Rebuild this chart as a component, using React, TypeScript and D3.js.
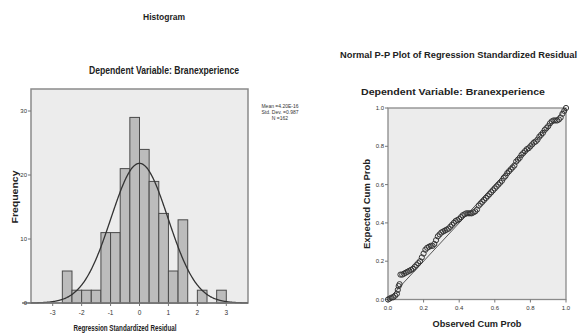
import React from "react";
import * as d3 from "d3";

// Histogram data
const binStart = -8 / 3;
const binWidth = 1 / 3;
const binCounts = [5, 2, 2, 2, 11, 11, 21, 29, 24, 19, 14, 5, 13, 0, 2, 0, 2];
const histXTicks = [-3, -2, -1, 0, 1, 2, 3];
const histYTicks = [0, 10, 20, 30];
const statMean = 4.2e-16;
const statSd = 0.987;
const statN = 162;
const legendLines = ["Mean =4.20E-16", "Std. Dev. =0.987", "N =162"];

// P-P plot data (observed cum prob, expected cum prob)
const ppObserved = [
  0.0, 0.01, 0.02, 0.03, 0.04, 0.05, 0.055, 0.06, 0.065, 0.07, 0.08, 0.09, 0.1, 0.11, 0.12, 0.13,
  0.14, 0.15, 0.16, 0.17, 0.18, 0.19, 0.2, 0.21, 0.22, 0.23, 0.24, 0.25, 0.26, 0.27, 0.28, 0.29,
  0.3, 0.31, 0.32, 0.33, 0.34, 0.35, 0.36, 0.37, 0.38, 0.39, 0.4, 0.41, 0.42, 0.43, 0.44, 0.45,
  0.46, 0.47, 0.48, 0.49, 0.5, 0.51, 0.52, 0.53, 0.54, 0.55, 0.56, 0.57, 0.58, 0.59, 0.6, 0.61,
  0.62, 0.63, 0.64, 0.65, 0.66, 0.67, 0.68, 0.69, 0.7, 0.71, 0.72, 0.73, 0.74, 0.75, 0.76, 0.77,
  0.78, 0.79, 0.8, 0.81, 0.82, 0.83, 0.84, 0.85, 0.86, 0.87, 0.88, 0.89, 0.9, 0.91, 0.92, 0.93,
  0.94, 0.95, 0.96, 0.97, 0.98, 0.99, 1.0,
];
const ppExpected = [
  0.0, 0.005, 0.01, 0.012, 0.02, 0.03, 0.05, 0.07, 0.08, 0.13, 0.13, 0.135, 0.14, 0.145, 0.15, 0.155,
  0.16, 0.17, 0.18, 0.19, 0.2, 0.22, 0.24, 0.26, 0.27, 0.275, 0.28, 0.28, 0.29, 0.31, 0.33, 0.34,
  0.35, 0.355, 0.36, 0.365, 0.37, 0.38, 0.39, 0.4, 0.41, 0.415, 0.42, 0.43, 0.44, 0.445, 0.45, 0.45,
  0.45, 0.45, 0.455, 0.46, 0.47, 0.49, 0.5, 0.51, 0.52, 0.53, 0.54, 0.55, 0.56, 0.57, 0.58, 0.59,
  0.6, 0.61, 0.62, 0.635, 0.645, 0.66, 0.67, 0.68, 0.69, 0.7, 0.72, 0.73, 0.74, 0.755, 0.765, 0.775,
  0.785, 0.79, 0.8, 0.81, 0.82, 0.825, 0.835, 0.85, 0.86, 0.87, 0.885, 0.895, 0.905, 0.92, 0.93, 0.935,
  0.935, 0.935, 0.94, 0.95, 0.97, 0.985, 1.0,
];
const ppTicks = [0, 0.2, 0.4, 0.6, 0.8, 1.0];

const FONT = "'Liberation Sans', Arial, sans-serif";

export default function App() {
  // Histogram scales
  const hx = d3.scaleLinear().domain([-3.75, 3.75]).range([31, 248]);
  const hy = d3.scaleLinear().domain([0, 33.44]).range([303, 89]);
  const bins = binCounts.map((c, i) => ({
    x0: binStart + i * binWidth,
    x1: binStart + (i + 1) * binWidth,
    c,
  }));
  const curvePts = d3.range(-3.75, 3.7501, 0.02).map((x) => [
    x,
    statN * binWidth * (Math.exp(-0.5 * ((x - statMean) / statSd) ** 2) / (statSd * Math.sqrt(2 * Math.PI))),
  ]);
  const curve = d3
    .line<number[]>()
    .x((d) => hx(d[0]))
    .y((d) => hy(d[1]))
    .curve(d3.curveBasis)(curvePts as any);

  // P-P scales
  const px = d3.scaleLinear().domain([0, 1]).range([388, 566]);
  const py = d3.scaleLinear().domain([0, 1]).range([299.5, 108]);

  const [hx0, hx1] = hx.range();
  const [hyB, hyT] = hy.range();

  return (
    <div style={{ position: "fixed", left: 0, top: 0, width: 586, height: 333, overflow: "hidden", background: "#fff" }}>
      <svg width={586} height={333} style={{ display: "block", fontFamily: FONT }}>
        <rect width={586} height={333} fill="#fff" />
        {/* Histogram */}
        <text x={164} y={20} textAnchor="middle" fontSize={9.5} fontWeight="bold" fill="#222" textLength={42} lengthAdjust="spacingAndGlyphs">Histogram</text>
        <text x={164} y={74} textAnchor="middle" fontSize={10} fontWeight="bold" fill="#222" textLength={150} lengthAdjust="spacingAndGlyphs">Dependent Variable: Branexperience</text>
        <rect x={hx0} y={hyT} width={hx1 - hx0} height={hyB - hyT} fill="#ececec" stroke="#8a8a8a" strokeWidth={1.5} />
        {bins.filter((b) => b.c > 0).map((b, i) => (
          <rect key={i} x={hx(b.x0)} y={hy(b.c)} width={hx(b.x1) - hx(b.x0)} height={hy(0) - hy(b.c)} fill="#bcbcbc" stroke="#4a4a4a" strokeWidth={1} />
        ))}
        <path d={curve || ""} fill="none" stroke="#333" strokeWidth={1.3} />
        <line x1={22} x2={hx1} y1={hyB} y2={hyB} stroke="#777" strokeWidth={1.3} />
        {histYTicks.map((t) => (
          <g key={t}>
            <line x1={hx0 - 3} x2={hx0} y1={hy(t)} y2={hy(t)} stroke="#777" />
            <text x={hx0 - 4} y={hy(t) + 2} textAnchor="end" fontSize={6} fill="#333">{t}</text>
          </g>
        ))}
        {histXTicks.map((t) => (
          <g key={t}>
            <line x1={hx(t)} x2={hx(t)} y1={hyB} y2={hyB + 3} stroke="#777" />
            <text x={hx(t)} y={hyB + 12} textAnchor="middle" fontSize={6.5} fill="#333">{t}</text>
          </g>
        ))}
        <text transform="translate(18,197) rotate(-90)" textAnchor="middle" fontSize={9} fontWeight="bold" fill="#222" textLength={53} lengthAdjust="spacingAndGlyphs">Frequency</text>
        <text x={125} y={331} textAnchor="middle" fontSize={8.5} fontWeight="bold" fill="#222" textLength={103} lengthAdjust="spacingAndGlyphs">Regression Standardized Residual</text>
        {legendLines.map((l, i) => (
          <text key={l} x={280} y={108 + i * 6} textAnchor="middle" fontSize={5} fill="#333">{l}</text>
        ))}

        {/* P-P plot */}
        <text x={458.5} y={58} textAnchor="middle" fontSize={9} fontWeight="bold" fill="#222" textLength={237} lengthAdjust="spacingAndGlyphs">Normal P-P Plot of Regression Standardized Residual</text>
        <text x={453} y={95} textAnchor="middle" fontSize={9} fontWeight="bold" fill="#222" textLength={184} lengthAdjust="spacingAndGlyphs">Dependent Variable: Branexperience</text>
        <rect x={px(0)} y={py(1)} width={px(1) - px(0)} height={py(0) - py(1)} fill="#ececec" stroke="#8a8a8a" strokeWidth={1.3} />
        {ppTicks.map((t) => (
          <g key={"y" + t}>
            <line x1={px(0) - 3} x2={px(0)} y1={py(t)} y2={py(t)} stroke="#777" />
            <text x={px(0) - 4} y={py(t) + 2} textAnchor="end" fontSize={6} fill="#333">{t.toFixed(1)}</text>
          </g>
        ))}
        {ppTicks.map((t) => (
          <g key={"x" + t}>
            <line x1={px(t)} x2={px(t)} y1={py(0)} y2={py(0) + 3} stroke="#777" />
            <text x={px(t)} y={py(0) + 10} textAnchor="middle" fontSize={6} fill="#333">{t.toFixed(1)}</text>
          </g>
        ))}
        <line x1={px(0)} y1={py(0)} x2={px(1)} y2={py(1)} stroke="#444" strokeWidth={0.9} />
        {ppObserved.map((o, i) => (
          <circle key={i} cx={px(o)} cy={py(ppExpected[i])} r={2.6} fill="none" stroke="#333" strokeWidth={1} />
        ))}
        <text x={477} y={327} textAnchor="middle" fontSize={9} fontWeight="bold" fill="#222" textLength={89} lengthAdjust="spacingAndGlyphs">Observed Cum Prob</text>
        <text transform="translate(370,204) rotate(-90)" textAnchor="middle" fontSize={9} fontWeight="bold" fill="#222" textLength={90} lengthAdjust="spacingAndGlyphs">Expected Cum Prob</text>
      </svg>
    </div>
  );
}
